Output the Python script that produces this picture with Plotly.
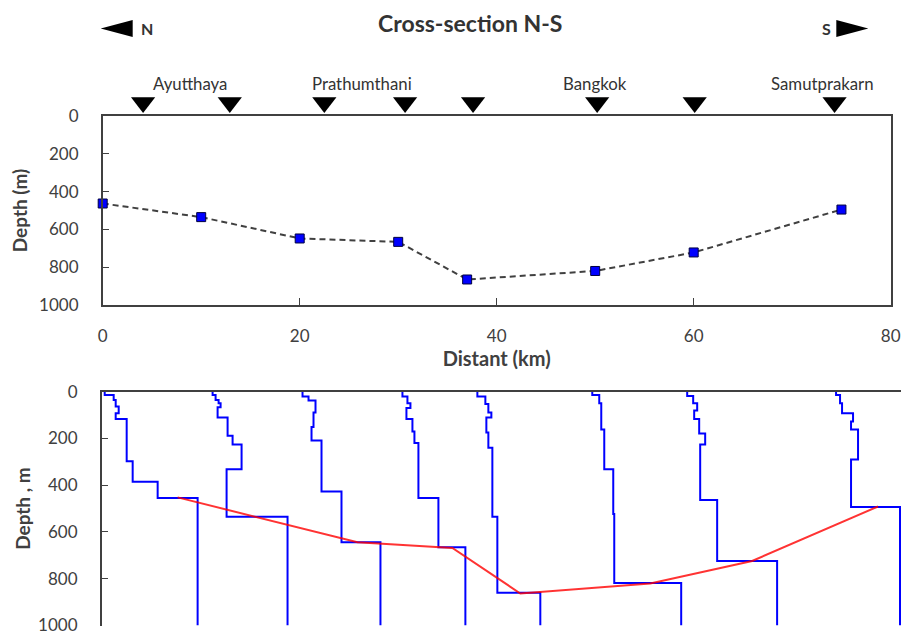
import plotly.graph_objects as go

W, H = 901, 635
FONT = "Lato"
TXT = "#404040"

# ---- top chart data ----
distance_km = [0, 10, 20, 30, 37, 50, 60, 75]
depth_m = [463, 535, 648, 666, 865, 820, 722, 495]

station_km = [4.1, 12.9, 22.5, 30.7, 37.6, 50.2, 60.1, 74.3]
label_names = ["Ayutthaya", "Prathumthani", "Bangkok", "Samutprakarn"]
label_km = [8.9, 26.3, 50.0, 73.1]
x_ticks = [0, 20, 40, 60, 80]
y_ticks = [0, 200, 400, 600, 800, 1000]

# ---- bottom chart data (step profiles: value per layer, layer boundaries) ----
p1_vals = [3, 12, 14, 17, 14, 25, 31, 56, 96]
p1_depth = [0, 14, 35, 63, 92, 117, 297, 385, 455, 1000]
p2_vals = [111, 114, 117, 119, 116, 126, 131, 140, 125, 186]
p2_depth = [0, 14, 35, 49, 66, 110, 188, 226, 332, 535, 1000]
p3_vals = [201, 207, 214, 212, 210, 220, 240, 279]
p3_depth = [0, 21, 38, 89, 151, 209, 427, 644, 1000]
p4_vals = [301, 306, 309, 305, 311, 313, 317, 337, 364]
p4_depth = [0, 21, 49, 70, 117, 170, 219, 455, 665, 1000]
p5_vals = [376, 384, 387, 390, 385, 387, 391, 396, 439]
p5_depth = [0, 21, 53, 89, 110, 174, 240, 535, 860, 1000]
p6_vals = [491, 498, 500, 503, 512, 513, 580]
p6_depth = [0, 14, 49, 162, 332, 523, 818, 1000]
p7_vals = [586, 592, 596, 593, 598, 604, 599, 616, 676]
p7_depth = [0, 18, 49, 80, 117, 179, 226, 463, 724, 1000]
p8_vals = [735, 739, 741, 752, 750, 757, 750, 799]
p8_depth = [0, 14, 49, 92, 127, 162, 290, 493, 1000]

red_x = [76, 256, 351, 419, 549, 651, 777]
red_depth = [452, 644, 668, 863, 820, 724, 491]

profiles = [(p1_vals, p1_depth), (p2_vals, p2_depth), (p3_vals, p3_depth),
            (p4_vals, p4_depth), (p5_vals, p5_depth), (p6_vals, p6_depth),
            (p7_vals, p7_depth), (p8_vals, p8_depth)]


def px_x(p):
    return p / W


def px_y(p):
    return 1 - p / H


fig = go.Figure()

# top chart
fig.add_trace(go.Scatter(
    x=distance_km, y=depth_m, mode="lines+markers",
    line=dict(color="#404040", width=2, dash="6px,4px"),
    marker=dict(symbol="square", size=9, color="#0000ff",
                line=dict(color="#000040", width=1)),
    cliponaxis=False, xaxis="x", yaxis="y", showlegend=False))

# station triangles (own invisible y axis band above the top chart)
fig.add_trace(go.Scatter(
    x=station_km, y=[0.5] * len(station_km), mode="markers",
    marker=dict(symbol="triangle-down", size=21, color="black"),
    cliponaxis=False, xaxis="x", yaxis="y3", showlegend=False))

# bottom chart profiles
for vals, bounds in profiles:
    xs, ys = [], []
    for i, v in enumerate(vals):
        xs += [v, v]
        ys += [bounds[i], bounds[i + 1]]
    fig.add_trace(go.Scatter(
        x=xs, y=ys, mode="lines", line=dict(color="#0000ff", width=2),
        cliponaxis=False, xaxis="x2", yaxis="y2", showlegend=False))

fig.add_trace(go.Scatter(
    x=red_x, y=red_depth, mode="lines",
    line=dict(color="rgba(255,0,0,0.8)", width=2),
    xaxis="x2", yaxis="y2", showlegend=False))

axis_common = dict(showgrid=False, zeroline=False, showline=True,
                   linecolor="#404040", linewidth=1.5, automargin=False,
                   ticklabeloverflow="allow",
                   tickfont=dict(family=FONT, size=17, color=TXT))

fig.update_layout(
    width=W, height=H, margin=dict(l=0, r=0, t=0, b=0),
    paper_bgcolor="white", plot_bgcolor="white",
    font=dict(family=FONT, color=TXT),
    xaxis=dict(domain=[px_x(102.7), px_x(890.7)], range=[0, 80],
               tickvals=x_ticks, ticks="inside", ticklen=7, tickcolor="#404040",
               mirror=True, anchor="y", ticklabelstandoff=15,
               title=dict(text="<b>Distant (km)</b>", standoff=3,
                          font=dict(family=FONT, size=20, color=TXT)),
               **axis_common),
    yaxis=dict(domain=[px_y(305), px_y(116)], range=[1000, 0],
               tickvals=y_ticks, ticks="inside", ticklen=7, tickcolor="#404040",
               mirror=True, anchor="x", ticklabelstandoff=19,
               title=dict(text="<b>Depth (m)</b>", standoff=6,
                          font=dict(family=FONT, size=19, color=TXT)),
               **axis_common),
    yaxis3=dict(domain=[px_y(116), px_y(89.2)], range=[0, 1], anchor="x",
                visible=False, fixedrange=True),
    xaxis2=dict(domain=[px_x(101.7), 1.0], range=[0, 800], anchor="y2",
                side="top", showticklabels=False, ticks="", **axis_common),
    yaxis2=dict(domain=[px_y(625.5), px_y(391.7)], range=[1000, 0],
                tickvals=y_ticks, ticks="inside", ticklen=7, tickcolor="#404040",
                anchor="x2", ticklabelstandoff=19,
                title=dict(text="<b>Depth , m</b>", standoff=2,
                           font=dict(family=FONT, size=19, color=TXT)),
                **axis_common),
)

center = dict(xanchor="center", yanchor="middle", showarrow=False)
annotations = [dict(text="<b>Cross-section N-S</b>", x=px_x(470), y=px_y(23),
                    xref="paper", yref="paper",
                    font=dict(family=FONT, size=23, color="#333333"), **center),
               dict(text="<b>N</b>", x=px_x(147), y=px_y(28), xref="paper",
                    yref="paper", font=dict(family=FONT, size=16, color="#333333"),
                    **center),
               dict(text="<b>S</b>", x=px_x(826), y=px_y(28), xref="paper",
                    yref="paper", font=dict(family=FONT, size=16, color="#333333"),
                    **center)]
for name, km in zip(label_names, label_km):
    annotations.append(dict(text=name, x=km, y=px_y(84), xref="x", yref="paper",
                            font=dict(family=FONT, size=16.8, color="#333333"),
                            **center))
fig.update_layout(annotations=annotations)

left_arrow = (f"M {px_x(100.7)} {px_y(28.5)} L {px_x(132.7)} {px_y(20)} "
              f"L {px_x(132.7)} {px_y(37)} Z")
right_arrow = (f"M {px_x(868.3)} {px_y(28.5)} L {px_x(836.3)} {px_y(20)} "
               f"L {px_x(836.3)} {px_y(37)} Z")
fig.update_layout(shapes=[
    dict(type="path", path=left_arrow, xref="paper", yref="paper",
         fillcolor="black", line=dict(width=0)),
    dict(type="path", path=right_arrow, xref="paper", yref="paper",
         fillcolor="black", line=dict(width=0)),
])

fig.write_html("out.html", config={"displayModeBar": False},
               post_script="document.body.style.margin='0px';"
                           "document.body.style.overflow='hidden';")
